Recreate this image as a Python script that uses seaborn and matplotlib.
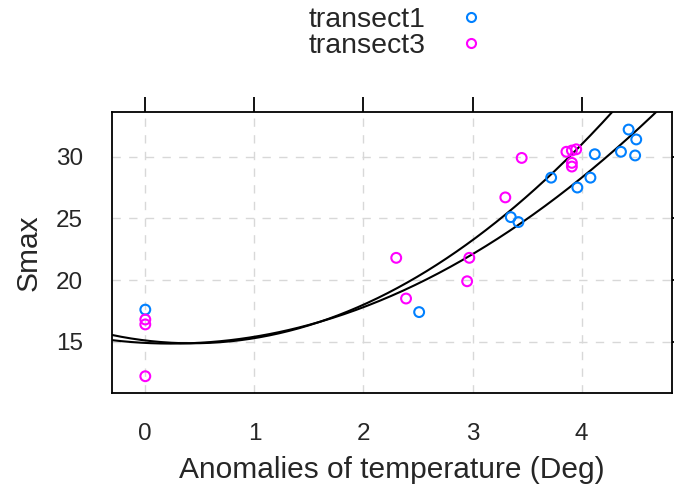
import numpy as np
import pandas as pd
import seaborn as sns
import matplotlib.pyplot as plt
from matplotlib.lines import Line2D

# data
t1_x = [0, 2.51, 3.35, 3.42, 3.72, 3.96, 4.08, 4.12, 4.36, 4.43, 4.50, 4.49]
t1_y = [17.6, 17.4, 25.1, 24.7, 28.3, 27.5, 28.3, 30.2, 30.4, 32.2, 31.4, 30.1]
t3_x = [0, 0, 0, 2.30, 2.39, 2.95, 2.97, 3.30, 3.45, 3.86, 3.91, 3.95, 3.91, 3.91]
t3_y = [16.8, 16.4, 12.2, 21.8, 18.5, 19.9, 21.8, 26.7, 29.9, 30.4, 30.5, 30.6, 29.5, 29.2]

# quadratic fit coefficients (a + b*x + c*x^2) of the two black curves
fit_upper = [15.1, -1.075, 1.2625]
fit_lower = [14.9, -0.45, 0.95]

groups = ['transect1', 'transect3']
colors = {'transect1': '#0080ff', 'transect3': '#ff00ff'}

df = pd.concat([
    pd.DataFrame({'temp': t1_x, 'smax': t1_y, 'group': 'transect1'}),
    pd.DataFrame({'temp': t3_x, 'smax': t3_y, 'group': 'transect3'}),
])

sns.set_style('white')
plt.rcParams['font.family'] = ['Liberation Sans', 'DejaVu Sans']

fig = plt.figure(figsize=(6.74, 4.91), dpi=100)
ax = fig.add_axes([111.7 / 674, 1 - 393 / 491, 560 / 674, (393 - 112.3) / 491])

# dashed grid at the ticks
for gx in [0, 1, 2, 3, 4]:
    ax.axvline(gx, color='#d8d8d8', lw=1, ls=(0, (6, 6)), zorder=0)
for gy in [15, 20, 25, 30]:
    ax.axhline(gy, color='#d8d8d8', lw=1, ls=(0, (6, 6)), zorder=0)

sns.scatterplot(data=df, x='temp', y='smax', hue='group', palette=colors,
                s=50, linewidth=1.5, legend=False, ax=ax, zorder=3)
# hollow circles like lattice
for coll in ax.collections:
    fc = coll.get_facecolors()
    coll.set_edgecolors(fc)
    coll.set_facecolors('none')

xs = np.linspace(-0.4, 5.0, 300)
for coef in [fit_upper, fit_lower]:
    ys = coef[0] + coef[1] * xs + coef[2] * xs ** 2
    sns.lineplot(x=xs, y=ys, color='black', lw=1.5, ax=ax, zorder=2)

ax.set_xlim(-0.308, 4.825)
ax.set_ylim(10.84, 33.6)
ax.set_xticks([0, 1, 2, 3, 4])
ax.set_yticks([15, 20, 25, 30])
ax.tick_params(axis='both', which='both', direction='out', length=10.5, width=1.3,
               labelsize=17.5, top=True, right=True, color='black')
ax.tick_params(axis='x', pad=11)
ax.tick_params(axis='y', pad=10)
for sp in ax.spines.values():
    sp.set_linewidth(1.3)
    sp.set_color('black')

ax.set_xlabel('Anomalies of temperature (Deg)', fontsize=21.5)
ax.set_ylabel('Smax', fontsize=21.5)
ax.xaxis.set_label_coords(0.5, -0.225)
ax.yaxis.set_label_coords(-0.123, 0.5)

handles = [Line2D([], [], ls='none', marker='o', markersize=6.5, markerfacecolor='none',
                  markeredgecolor=colors[g], markeredgewidth=1.5) for g in groups]
fig.legend(handles, groups, loc='upper center', bbox_to_anchor=(396.6 / 674, 0.992),
           frameon=False, markerfirst=False, fontsize=20.5, handletextpad=1.1,
           labelspacing=0.0, borderaxespad=0.0, borderpad=0.1, handlelength=1.0)

fig.savefig('out.png', dpi=100)
